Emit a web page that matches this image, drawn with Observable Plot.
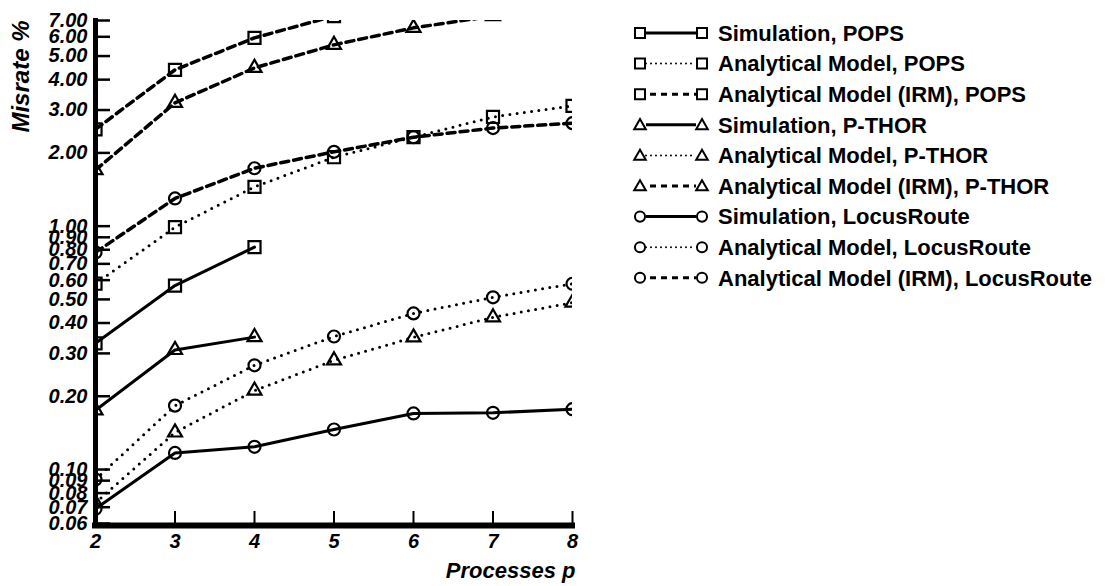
<!DOCTYPE html>
<html><head><meta charset="utf-8">
<script src="https://cdn.jsdelivr.net/npm/d3@7"></script>
<script src="https://cdn.jsdelivr.net/npm/@observablehq/plot@0.6"></script>
<style>
html,body{margin:0;padding:0;background:#fff;}
#wrap{position:relative;width:1109px;height:586px;overflow:hidden;}
#chart{position:absolute;left:0;top:0;}
#legend{position:absolute;left:620px;top:0;}
#chart text{font-family:"Liberation Sans",Arial,sans-serif;font-weight:bold;font-style:italic;fill:#000;}
#legend text{font-family:"Liberation Sans",Arial,sans-serif;font-weight:bold;fill:#000;}
</style></head><body><div id="wrap"><div id="chart"></div><div id="legend"></div></div>
<script>
// ---- data ----
const processes = [2, 3, 4, 5, 6, 7, 8];
const xTicks = [2, 3, 4, 5, 6, 7, 8];
const yTicks = [0.06, 0.07, 0.08, 0.09, 0.10, 0.20, 0.30, 0.40, 0.50, 0.60, 0.70, 0.80, 0.90, 1.00, 2.00, 3.00, 4.00, 5.00, 6.00, 7.00];

const popsSim = [0.33, 0.57, 0.82];
const popsAnalytic = [0.58, 0.99, 1.45, 1.92, 2.32, 2.81, 3.12];
const popsIRM = [2.5, 4.39, 5.94, 7.3];
const pthorSim = [0.175, 0.31, 0.35];
const pthorAnalytic = [0.073, 0.142, 0.211, 0.281, 0.349, 0.422, 0.485];
const pthorIRM = [1.7, 3.21, 4.47, 5.56, 6.53, 7.3];
const locusSim = [0.069, 0.117, 0.124, 0.146, 0.17, 0.171, 0.177];
const locusAnalytic = [0.091, 0.183, 0.268, 0.352, 0.438, 0.51, 0.58];
const locusIRM = [0.78, 1.30, 1.73, 2.02, 2.32, 2.53, 2.65];

const seriesNames = [
  "Simulation, POPS", "Analytical Model, POPS", "Analytical Model (IRM), POPS",
  "Simulation, P-THOR", "Analytical Model, P-THOR", "Analytical Model (IRM), P-THOR",
  "Simulation, LocusRoute", "Analytical Model, LocusRoute", "Analytical Model (IRM), LocusRoute"
];
const seriesValues = [popsSim, popsAnalytic, popsIRM, pthorSim, pthorAnalytic, pthorIRM, locusSim, locusAnalytic, locusIRM];
const seriesSymbols = ["square", "square", "square", "triangle", "triangle", "triangle", "circle", "circle", "circle"];
const seriesStyles = ["solid", "dotted", "dashed", "solid", "dotted", "dashed", "solid", "dotted", "dashed"];

// ---- table ----
const rows = [];
seriesNames.forEach((name, s) => {
  seriesValues[s].forEach((v, i) => rows.push({series: name, symbol: seriesSymbols[s], style: seriesStyles[s], x: processes[i], y: v}));
});

const W = 620, H = 586, mL = 95, mR = 48, mT = 20, mB = 63;
const frameW = W - mL - mR, frameH = H - mT - mB;

const lineStyle = {
  solid: {strokeWidth: 3},
  dotted: {strokeWidth: 3, strokeDasharray: "0,7.3", strokeLinecap: "round"},
  dashed: {strokeWidth: 3.5, strokeDasharray: "8,5"}
};
const symR = {square: 6.8, triangle: 5.2, circle: 6};

const marks = [];
for (const st of ["solid", "dotted", "dashed"]) {
  marks.push(Plot.line(rows.filter(d => d.style === st), {x: "x", y: "y", z: "series", stroke: "black", clip: true, ...lineStyle[st]}));
}
for (const sym of ["square", "triangle", "circle"]) {
  marks.push(Plot.dot(rows.filter(d => d.symbol === sym), {x: "x", y: "y", symbol: sym, r: symR[sym], stroke: "black", strokeWidth: 2.2, fill: "none", clip: true}));
}

const chart = Plot.plot({
  width: W, height: H,
  marginLeft: mL, marginRight: mR, marginTop: mT, marginBottom: mB,
  style: {fontFamily: "Liberation Sans, Arial, sans-serif", background: "white", color: "black"},
  x: {domain: [d3.min(processes), d3.max(processes)]},
  y: {type: "log", domain: [d3.min(yTicks), d3.max(yTicks)], axis: null},
  marks: [
    ...marks,
    Plot.ruleX([d3.min(processes)], {stroke: "black", strokeWidth: 5, insetBottom: -4, insetTop: -2}),
    Plot.ruleY([d3.min(yTicks)], {stroke: "black", strokeWidth: 6, insetRight: -3, insetLeft: -3, dy: 2}),
    Plot.tickY(yTicks, {y: d => d, insetRight: frameW - 15, stroke: "black", strokeWidth: 2.5}),
    Plot.tickX(xTicks.slice(1), {x: d => d, insetTop: frameH - 12, stroke: "black", strokeWidth: 2}),
    Plot.text(yTicks, {y: d => d, text: d => d.toFixed(2), frameAnchor: "left", dx: -8, textAnchor: "end", lineAnchor: "middle", fontSize: 20}),
    Plot.axisX({ticks: xTicks, tickSize: 0, tickPadding: 10, tickFormat: d => String(d), fontSize: 20, label: null}),
    Plot.text(["Misrate %"], {text: d => d, frameAnchor: "top-left", dx: -74, dy: 0, rotate: -90, textAnchor: "end", lineAnchor: "middle", fontSize: 24}),
    Plot.text(["Processes p"], {text: d => d, frameAnchor: "bottom-right", dx: 3, dy: 47, textAnchor: "end", lineAnchor: "middle", fontSize: 22})
  ]
});
document.getElementById("chart").appendChild(chart);

// ---- legend ----
const lg = d3.select("#legend").append("svg").attr("width", 489).attr("height", 310);
const legSize = {square: 100, triangle: 58, circle: 80};
const legType = {square: d3.symbolSquare, triangle: d3.symbolTriangle, circle: d3.symbolCircle};
seriesNames.forEach((name, i) => {
  const y = 33 + i * 30.6;
  const g = lg.append("g").attr("transform", `translate(0,${y})`);
  g.append("line").attr("x1", 26).attr("x2", 76).attr("y1", 0).attr("y2", 0)
    .attr("stroke", "black").attr("stroke-width", seriesStyles[i] === "dotted" ? 2 : 3)
    .attr("stroke-dasharray", seriesStyles[i] === "solid" ? null : (seriesStyles[i] === "dotted" ? "0,5" : "6,5"))
    .attr("stroke-linecap", seriesStyles[i] === "dotted" ? "round" : "butt")
    .attr("stroke-dashoffset", seriesStyles[i] === "dashed" ? -4 : 0);
  for (const cx of [20, 82]) {
    g.append("path").attr("d", d3.symbol(legType[seriesSymbols[i]], legSize[seriesSymbols[i]])())
      .attr("transform", `translate(${cx},${seriesSymbols[i] === "triangle" ? 1 : 0})`)
      .attr("fill", "white").attr("stroke", "black").attr("stroke-width", 2);
  }
  g.append("text").attr("x", 98).attr("y", 0).attr("dy", "0.35em").attr("font-size", 22).text(name);
});
</script>
</body></html>
